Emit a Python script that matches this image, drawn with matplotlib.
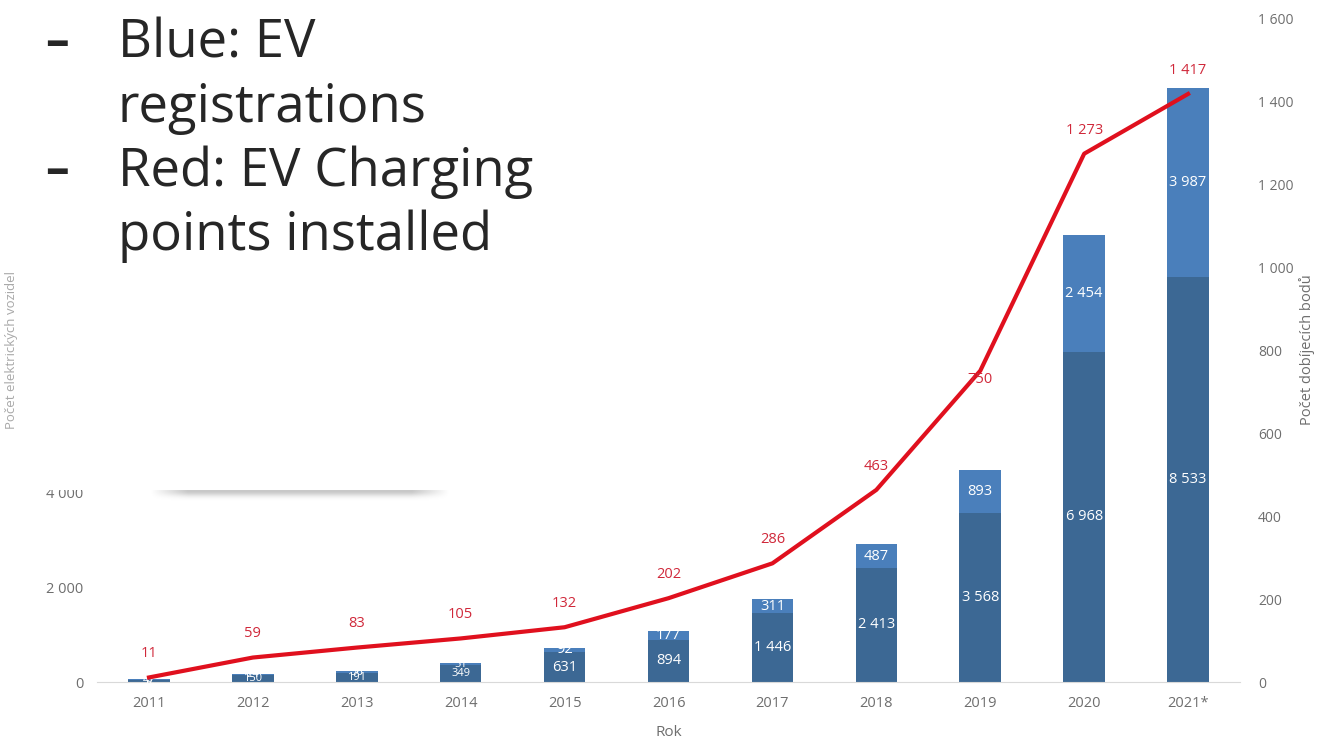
import matplotlib
matplotlib.use("Agg")
import matplotlib.pyplot as plt
import numpy as np
from matplotlib.patches import Rectangle

# registrations per year (dark = BEV part, light = the rest) and charging points
years = ["2011", "2012", "2013", "2014", "2015", "2016", "2017", "2018", "2019", "2020", "2021*"]
ev_dark = [47, 150, 191, 349, 631, 894, 1446, 2413, 3568, 6968, 8533]
ev_light = [8, 24, 36, 51, 92, 177, 311, 487, 893, 2454, 3987]
charging = [11, 59, 83, 105, 132, 202, 286, 463, 750, 1273, 1417]

left_ticks = [0, 2000, 4000, 6000, 8000, 10000, 12000, 14000]
right_ticks = [0, 200, 400, 600, 800, 1000, 1200, 1400, 1600]

DARK = "#3c6894"
LIGHT = "#4a7fbb"
RED = "#e0101e"
LABEL_RED = "#d0283a"
GRAY = "#6e6e6e"
W, H = 1322, 741


def fmt(v):
    return f"{v:,}".replace(",", " ")


plt.rcParams["font.family"] = ["Open Sans", "DejaVu Sans"]

fig = plt.figure(figsize=(W / 100, H / 100), dpi=100)
ax = fig.add_axes([0.0734, 0.0796, 0.8646, 0.8961])
x = list(range(len(years)))

ax.bar(x, ev_dark, width=0.4, color=DARK, zorder=2)
ax.bar(x, ev_light, width=0.4, bottom=ev_dark, color=LIGHT, zorder=2)
for i in x:
    # the first few bars are too short for their labels; they pile up as in the source
    fs = 10.5 if ev_dark[i] > 500 else 8
    ax.text(i, ev_dark[i] / 2, fmt(ev_dark[i]), ha="center", va="center",
            color="white", fontsize=fs, zorder=3)
    ax.text(i, ev_dark[i] + ev_light[i] / 2, fmt(ev_light[i]), ha="center",
            va="center", color="white", fontsize=fs, zorder=3)

ax.set_xlim(-0.5, len(years) - 0.5)
ax.set_ylim(0, 14000)
ax.set_yticks(left_ticks)
ax.set_yticklabels([fmt(t) for t in left_ticks])
ax.set_xticks(x)
ax.set_xticklabels(years)
ax.set_xlabel("Rok", color=GRAY, fontsize=11, labelpad=10)
ax.set_ylabel("Počet elektrických vozidel", color="#a8a8a8", fontsize=9.5, labelpad=14)
ax.tick_params(length=0, colors=GRAY, labelsize=10.5, pad=10)
for s in ["top", "right", "left"]:
    ax.spines[s].set_visible(False)
ax.spines["bottom"].set_color("#d9d9d9")

ax2 = ax.twinx()
ax2.plot(x, charging, color=RED, lw=3, zorder=4)
ax2.set_ylim(0, 1600)
ax2.set_yticks(right_ticks)
ax2.set_yticklabels([fmt(t) for t in right_ticks])
ax2.set_ylabel("Počet dobíjecích bodů", color=GRAY, fontsize=10.5, labelpad=4)
ax2.tick_params(length=0, colors=GRAY, labelsize=10, pad=13)
for s in ax2.spines.values():
    s.set_visible(False)
for i, v in enumerate(charging):
    dy = -6 if i == 8 else 17
    ax2.annotate(fmt(v), (i, v), xytext=(0, dy), textcoords="offset points",
                 ha="center", va="center", color=LABEL_RED, fontsize=10.5, zorder=5)

# soft drop shadow under the note panel
sh = fig.add_axes([150 / W, 1 - 506 / H, 300 / W, 22 / H], zorder=9)
gx = np.linspace(-1, 1, 300)
gy = np.linspace(0, 1, 22)
fade_x = np.clip((1 - np.abs(gx)) * 4, 0, 1)
fade_y = np.exp(-((gy - 0.3) / 0.25) ** 2)
alpha = np.outer(fade_y, fade_x) * 0.22
rgba = np.zeros((22, 300, 4))
rgba[..., 3] = alpha
sh.imshow(rgba, aspect="auto", interpolation="bilinear")
sh.axis("off")

fig.patches.append(Rectangle((34 / W, 1 - 490 / H), 416 / W, 490 / H,
                             transform=fig.transFigure, color="white", lw=0, zorder=10))
note = [("-", "Blue: EV"), ("", "registrations"), ("-", "Red: EV Charging"), ("", "points installed")]
for j, (dash, line) in enumerate(note):
    y = 1 - (44 + j * 64) / H
    if dash:
        fig.text(45 / W, y, "–", fontsize=34, color="#262626", va="center", zorder=11,
                 fontweight="bold")
    fig.text(118 / W, y, line, fontsize=38, color="#262626", va="center", zorder=11)

fig.savefig("out.png", dpi=100)
